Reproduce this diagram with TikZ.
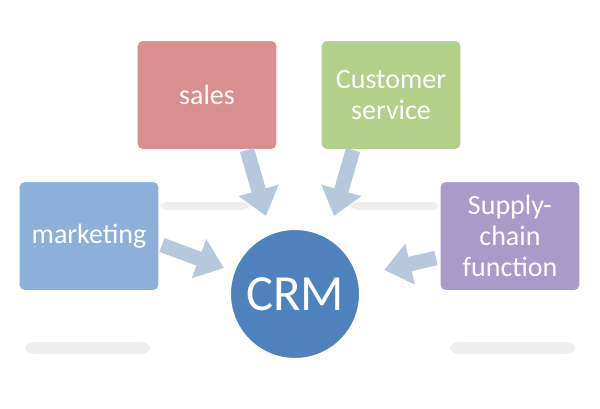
\documentclass[tikz,border=0pt]{standalone}
\usepackage{fontspec}
\setmainfont{Carlito}
\usetikzlibrary{arrows.meta}
\definecolor{salesc}{HTML}{D98E90}
\definecolor{servc}{HTML}{B2D08A}
\definecolor{markc}{HTML}{8DB0DB}
\definecolor{supc}{HTML}{A99ACA}
\definecolor{crmc}{HTML}{4F81BD}
\definecolor{arrc}{HTML}{B7C7DC}
\begin{document}
\begin{tikzpicture}[x=0.75pt,y=-0.75pt,
 box/.style={draw=white,line width=1pt,rounded corners=4pt,minimum width=105pt,minimum height=82pt,text=white,font=\fontsize{21}{23}\selectfont,align=center,inner sep=2pt},
 arr/.style={arrc,line width=11pt,-{Triangle[length=20pt,width=30pt]}},
 shad/.style={fill=gray!25,opacity=0.5}]
\useasboundingbox (0,0) rectangle (600,408);
\fill[white] (0,0) rectangle (600,408);
\fill[shad,rounded corners=6pt] (25,342) rectangle (150,354);
\fill[shad,rounded corners=6pt] (450,342) rectangle (575,354);
\fill[shad,rounded corners=6pt] (160,202) rectangle (250,210);
\fill[shad,rounded corners=6pt] (350,202) rectangle (440,210);
\node[box,fill=salesc] (sales) at (207,95) {sales};
\node[box,fill=servc] (serv) at (391,95) {Customer\\service};
\node[box,fill=markc] (mark) at (89,236) {marketing};
\node[box,fill=supc] (sup) at (510,236) {Supply-\\chain\\function};
\coordinate (a1) at (247,150); \coordinate (a2) at (353,150);
\coordinate (a3) at (162,245); \coordinate (a4) at (436,258);
\draw[arr] (a1) -- (266,216);
\draw[arr] (a2) -- (334,216);
\draw[arr] (a3) -- (224,268);
\draw[arr] (a4) -- (384,270);
\node[circle,draw=white,line width=2pt,fill=crmc,minimum size=98pt,text=white,font=\fontsize{38}{40}\selectfont] (crm) at (295,294) {CRM};
\end{tikzpicture}
\end{document}
